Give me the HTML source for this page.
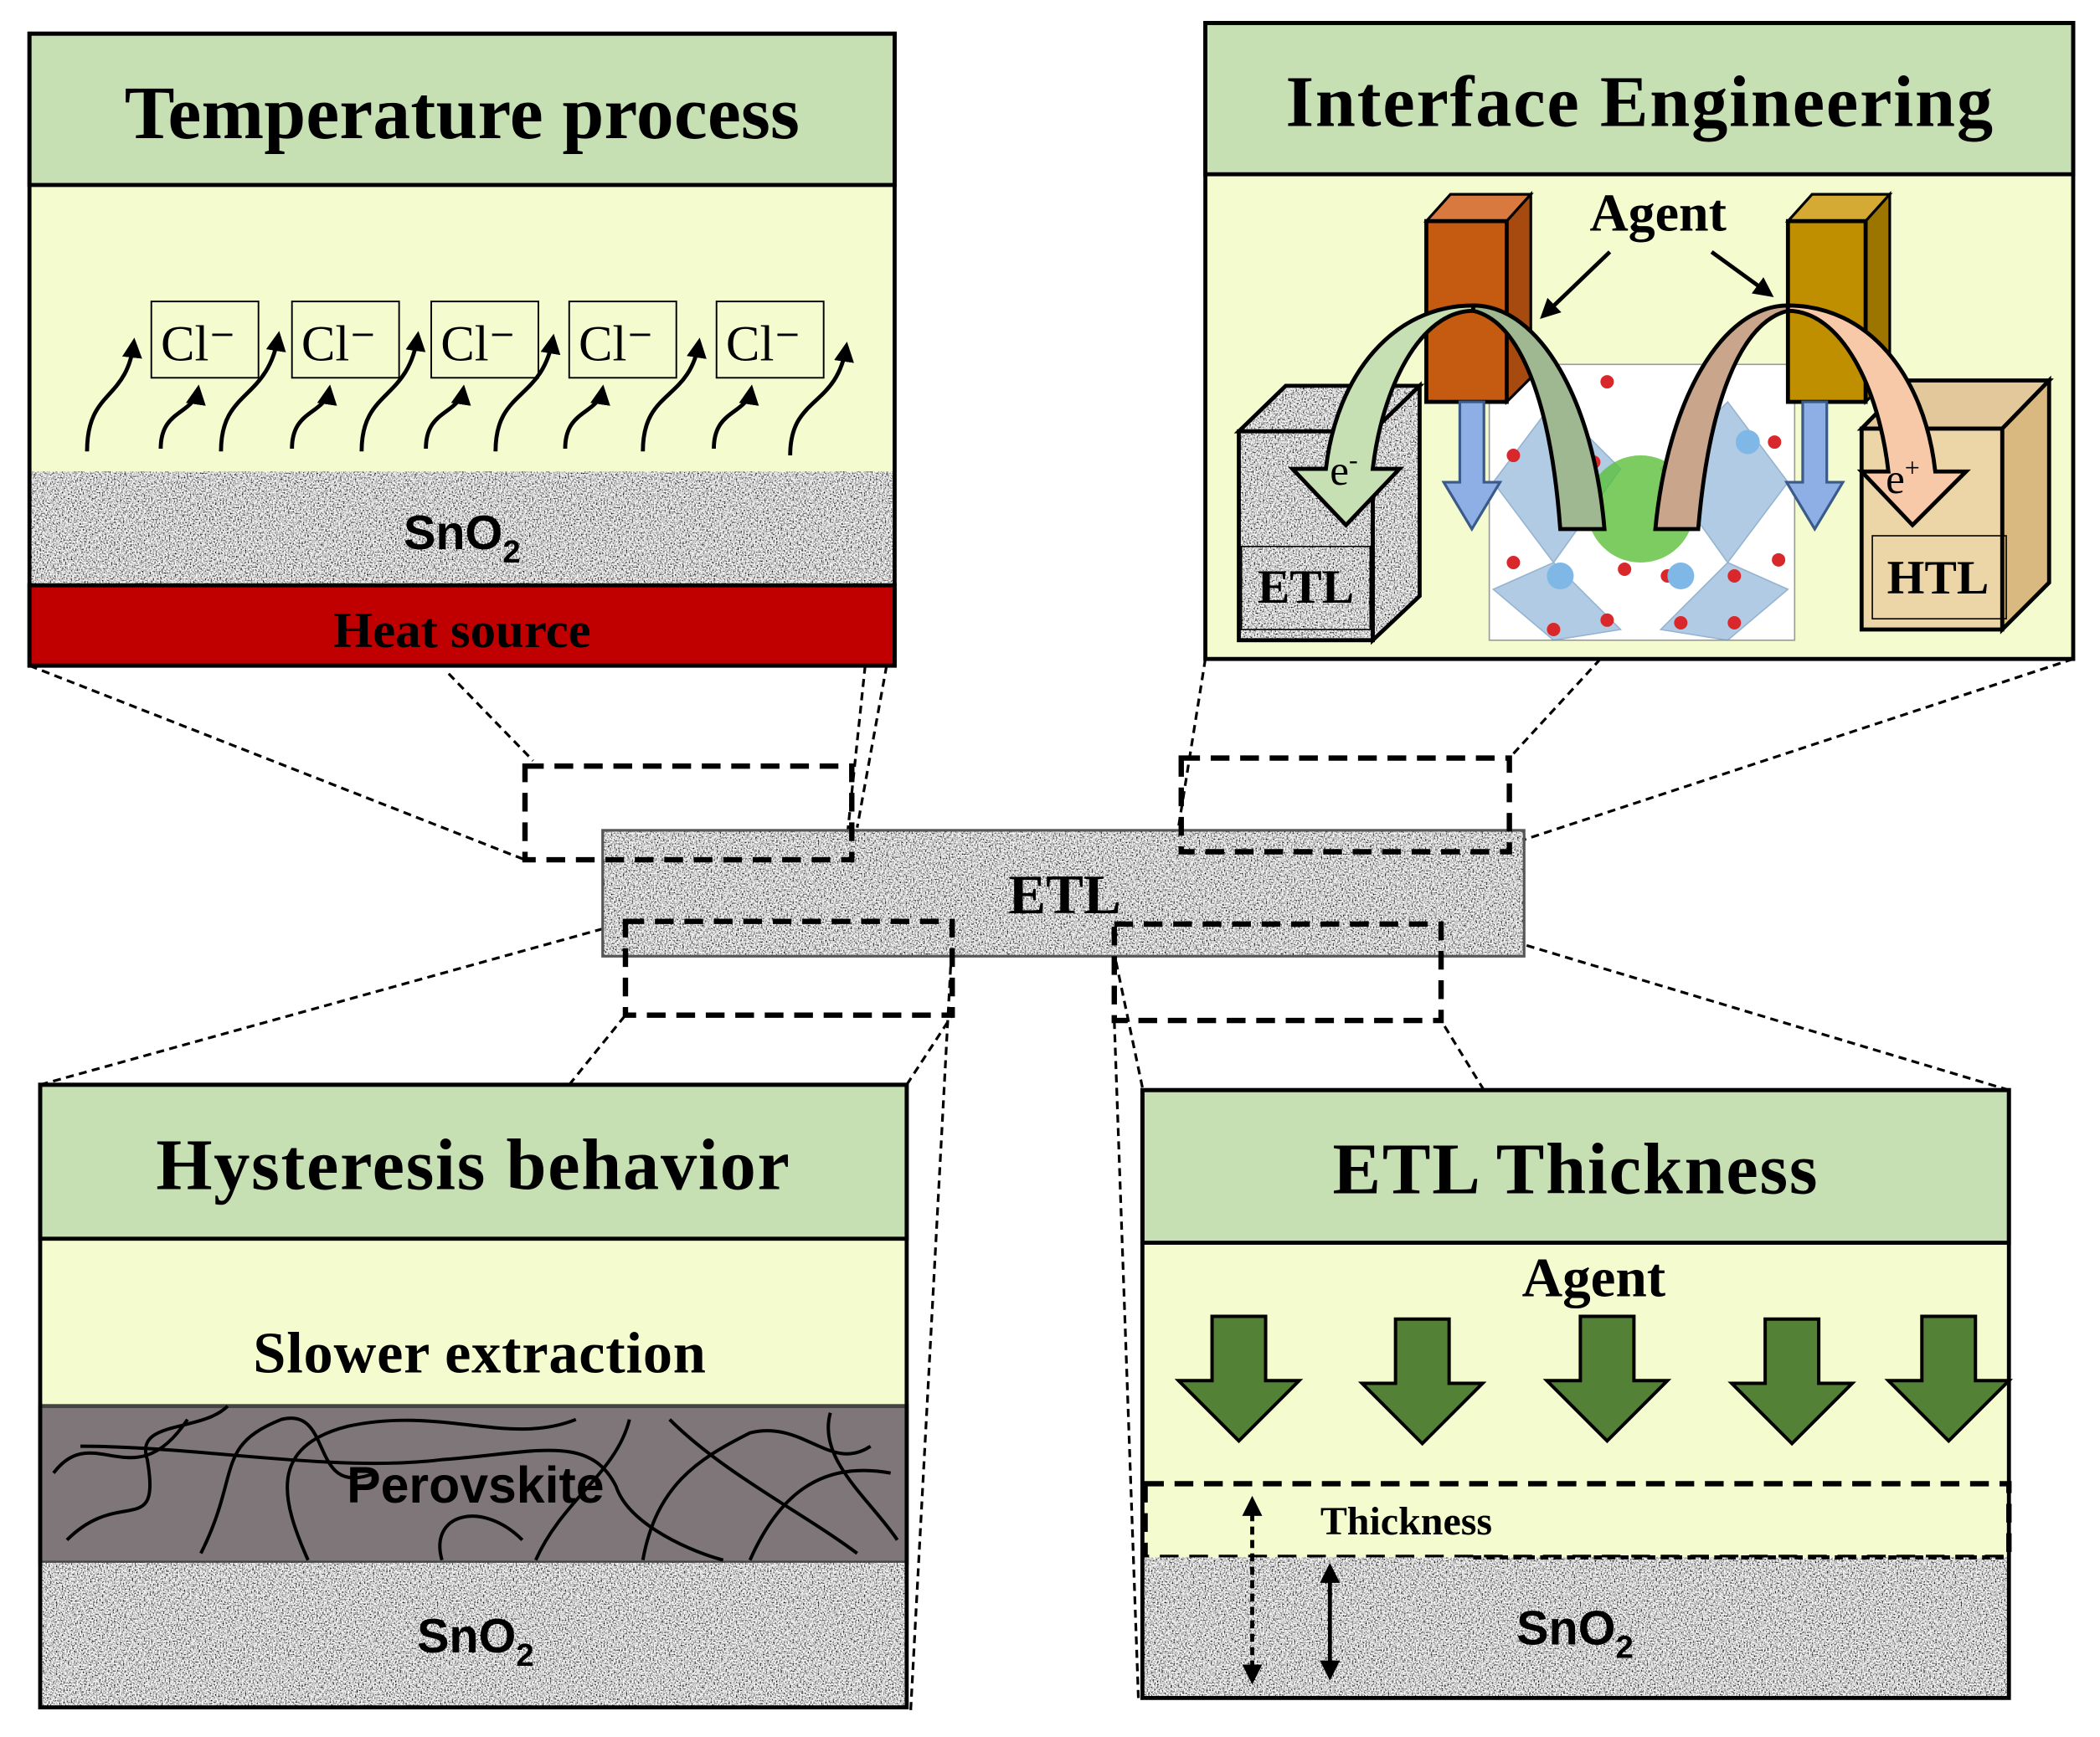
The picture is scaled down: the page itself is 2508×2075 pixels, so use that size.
<!DOCTYPE html>
<html><head><meta charset="utf-8"><style>
html,body{margin:0;padding:0;background:#fff}
svg{display:block}
</style></head><body>
<svg width="2508" height="2075" viewBox="0 0 1568 1297" xmlns="http://www.w3.org/2000/svg">
<defs>
<filter id="nz" x="0" y="0" width="1" height="1">
<feTurbulence type="fractalNoise" baseFrequency="0.9" numOctaves="2" seed="3" result="t"/>
<feColorMatrix in="t" type="matrix" values="2.5 0 0 0 -0.62  2.5 0 0 0 -0.62  2.5 0 0 0 -0.62  0 0 0 0 1" result="g"/>
<feComposite in="g" in2="SourceGraphic" operator="in"/>
</filter>
<marker id="ah" viewBox="0 0 10 10" refX="8" refY="5" markerWidth="5" markerHeight="5" orient="auto-start-reverse"><path d="M0,0 L10,5 L0,10 z" fill="#000"/></marker>
</defs>
<style>
.t{font-family:"Liberation Serif",serif;font-weight:bold;fill:#000}
.s{font-family:"Liberation Sans",sans-serif;font-weight:bold;fill:#000}
.d{stroke:#000;stroke-width:2;stroke-dasharray:6,4;fill:none}
.D{stroke:#000;stroke-width:4;stroke-dasharray:14,8;fill:none}
</style>

<g class="d">
<line x1="22" y1="497" x2="392" y2="642"/>
<line x1="335" y1="503" x2="398" y2="568"/>
<line x1="646" y1="497" x2="632" y2="630"/>
<line x1="662" y1="497" x2="640" y2="618"/>
<line x1="900" y1="492" x2="877" y2="636"/>
<line x1="1195" y1="492" x2="1127" y2="566"/>
<line x1="1548" y1="492" x2="1138" y2="627"/>
<line x1="30" y1="810" x2="452" y2="693"/>
<line x1="425" y1="810" x2="467" y2="758"/>
<line x1="677" y1="810" x2="711" y2="758"/>
<line x1="680" y1="1277" x2="711" y2="700"/>
<line x1="853" y1="812" x2="832" y2="712"/>
<line x1="850" y1="1268" x2="832" y2="762"/>
<line x1="1108" y1="814" x2="1076" y2="762"/>
<line x1="1500" y1="814" x2="1070" y2="685"/>
</g>

<rect x="450" y="620" width="688" height="94" fill="#999" filter="url(#nz)"/>
<rect x="450" y="620" width="688" height="94" fill="none" stroke="#555" stroke-width="2"/>
<text x="795" y="682" class="t" font-size="42" text-anchor="middle">ETL</text>
<rect x="392" y="572" width="244" height="70" class="D"/>
<rect x="882" y="566" width="245" height="70" class="D"/>
<rect x="467" y="688" width="244" height="70" class="D"/>
<rect x="832" y="690" width="244" height="72" class="D"/>

<!-- Temperature process -->
<rect x="22" y="138" width="646" height="214" fill="#f4fbcf"/>
<rect x="22" y="25" width="646" height="113" fill="#c6e0b4" stroke="#000" stroke-width="3"/>
<text x="345" y="103" class="t" font-size="56" text-anchor="middle" textLength="504">Temperature process</text>
<rect x="22" y="352" width="646" height="85" fill="#999" filter="url(#nz)"/>
<text x="345" y="410" class="s" font-size="36" text-anchor="middle">SnO<tspan font-size="24" dy="10">2</tspan></text>
<rect x="22" y="437" width="646" height="60" fill="#c00000" stroke="#000" stroke-width="3"/>
<text x="345" y="483" class="t" font-size="38" text-anchor="middle">Heat source</text>
<rect x="22" y="25" width="646" height="472" fill="none" stroke="#000" stroke-width="3"/>
<g font-family="Liberation Serif,serif" font-size="38" fill="#000" stroke="#000" stroke-width="1.2">
<rect x="113" y="225" width="80" height="57" fill="none"/><text x="120" y="269" stroke="none">Cl⁻</text>
<rect x="218" y="225" width="80" height="57" fill="none"/><text x="225" y="269" stroke="none">Cl⁻</text>
<rect x="322" y="225" width="80" height="57" fill="none"/><text x="329" y="269" stroke="none">Cl⁻</text>
<rect x="425" y="225" width="80" height="57" fill="none"/><text x="432" y="269" stroke="none">Cl⁻</text>
<rect x="535" y="225" width="80" height="57" fill="none"/><text x="542" y="269" stroke="none">Cl⁻</text>
</g>
<g stroke="#000" stroke-width="3" fill="none" marker-end="url(#ah)">
<path d="M65,337 C65,290 95,300 100,255"/>
<path d="M120,335 C120,305 145,310 148,290"/>
<path d="M165,337 C165,290 200,300 208,250"/>
<path d="M218,335 C218,305 243,310 246,290"/>
<path d="M270,337 C270,290 305,300 312,250"/>
<path d="M318,335 C318,305 343,310 346,290"/>
<path d="M370,337 C370,290 405,300 413,252"/>
<path d="M422,335 C422,305 447,310 450,290"/>
<path d="M480,337 C480,290 515,300 522,255"/>
<path d="M533,335 C533,305 558,310 561,290"/>
<path d="M590,340 C590,295 625,305 632,258"/>
</g>

<!-- Interface Engineering -->
<rect x="900" y="130" width="648" height="362" fill="#f4fbcf"/>
<rect x="900" y="17" width="648" height="113" fill="#c6e0b4" stroke="#000" stroke-width="3"/>
<text x="1224" y="94" class="t" font-size="54" text-anchor="middle" textLength="528">Interface Engineering</text>
<rect x="1112" y="272" width="228" height="206" fill="#fff" stroke="#999"/>
<g fill="#8fb6d8" opacity="0.7" stroke="#6a94bb">
<polygon points="1160,300 1210,350 1160,420 1115,360"/>
<polygon points="1290,300 1335,360 1290,420 1240,350"/>
<polygon points="1160,420 1210,470 1160,478 1115,440"/>
<polygon points="1290,420 1335,440 1290,478 1240,470"/>
</g>
<circle cx="1225" cy="380" r="40" fill="#5bbf3a" opacity="0.8"/>
<g fill="#d9282b">
<circle cx="1200" cy="285" r="5"/><circle cx="1130" cy="340" r="5"/><circle cx="1190" cy="345" r="5"/><circle cx="1250" cy="345" r="5"/><circle cx="1325" cy="330" r="5"/>
<circle cx="1130" cy="420" r="5"/><circle cx="1168" cy="430" r="5"/><circle cx="1213" cy="425" r="5"/><circle cx="1245" cy="430" r="5"/><circle cx="1295" cy="430" r="5"/><circle cx="1328" cy="418" r="5"/>
<circle cx="1200" cy="463" r="5"/><circle cx="1255" cy="465" r="5"/><circle cx="1160" cy="470" r="5"/><circle cx="1295" cy="465" r="5"/>
</g>
<g fill="#7fb8e6"><circle cx="1165" cy="430" r="10"/><circle cx="1255" cy="430" r="10"/><circle cx="1305" cy="330" r="9"/><circle cx="1170" cy="330" r="9"/></g>
<polygon points="925,322 960,288 1060,288 1025,322" fill="#999" filter="url(#nz)"/>
<polygon points="925,322 960,288 1060,288 1025,322" fill="none" stroke="#000" stroke-width="3"/>
<polygon points="1025,322 1060,288 1060,445 1025,478" fill="#999" filter="url(#nz)"/>
<rect x="925" y="322" width="100" height="156" fill="#999" filter="url(#nz)"/>
<rect x="925" y="322" width="100" height="156" fill="none" stroke="#000" stroke-width="3"/>
<polygon points="1025,322 1060,288 1060,445 1025,478" fill="none" stroke="#000" stroke-width="3"/>
<rect x="927" y="408" width="96" height="62" fill="none" stroke="#000" stroke-width="1"/>
<text x="975" y="450" class="t" font-size="36" text-anchor="middle">ETL</text>
<polygon points="1390,320 1425,284 1530,284 1495,320" fill="#e2c89a" stroke="#000" stroke-width="3"/>
<polygon points="1495,320 1530,284 1530,435 1495,470" fill="#d9b97f" stroke="#000" stroke-width="3"/>
<rect x="1390" y="320" width="105" height="150" fill="#ecd6a8" stroke="#000" stroke-width="3"/>
<rect x="1398" y="400" width="100" height="62" fill="none" stroke="#000" stroke-width="1"/>
<text x="1447" y="443" class="t" font-size="36" text-anchor="middle">HTL</text>
<polygon points="1065,165 1083,145 1143,145 1125,165" fill="#d87a40" stroke="#000" stroke-width="2"/>
<polygon points="1125,165 1143,145 1143,282 1125,300" fill="#a64a10" stroke="#000" stroke-width="2"/>
<rect x="1065" y="165" width="60" height="135" fill="#c55a11" stroke="#000" stroke-width="3"/>
<polygon points="1335,165 1353,145 1411,145 1393,165" fill="#d4aa35" stroke="#000" stroke-width="2"/>
<polygon points="1393,165 1411,145 1411,282 1393,300" fill="#9c7400" stroke="#000" stroke-width="2"/>
<rect x="1335" y="165" width="58" height="135" fill="#bf8f00" stroke="#000" stroke-width="3"/>
<path d="M1090,300 h18 v60 h12 l-21,35 l-21,-35 h12 z" fill="#8eaee6" stroke="#3a5a8a" stroke-width="2"/>
<path d="M1346,300 h18 v60 h12 l-21,35 l-21,-35 h12 z" fill="#8eaee6" stroke="#3a5a8a" stroke-width="2"/>
<path d="M1100,232 C1060,232 1032,290 1025,350 L1045,350 L1005,392 L965,350 L990,350 C998,280 1040,228 1100,228 Z" fill="#c6e0b4" stroke="#000" stroke-width="3"/>
<path d="M1100,228 C1150,228 1190,300 1198,395 L1165,395 C1158,300 1135,240 1100,232 Z" fill="#a0b892" stroke="#000" stroke-width="3"/>
<path d="M1335,228 C1285,228 1245,300 1236,395 L1268,395 C1276,300 1300,240 1335,232 Z" fill="#c9a58b" stroke="#000" stroke-width="3"/>
<path d="M1335,232 C1375,232 1403,290 1410,352 L1390,352 L1428,392 L1468,352 L1445,352 C1437,280 1395,228 1335,228 Z" fill="#f7c9a8" stroke="#000" stroke-width="3"/>
<text x="993" y="362" font-family="Liberation Serif,serif" font-size="32">e<tspan font-size="20" dy="-12">-</tspan></text>
<text x="1408" y="368" font-family="Liberation Serif,serif" font-size="32">e<tspan font-size="20" dy="-12">+</tspan></text>
<text x="1238" y="172" class="t" font-size="40" text-anchor="middle">Agent</text>
<line x1="1202" y1="188" x2="1152" y2="236" stroke="#000" stroke-width="3" marker-end="url(#ah)"/>
<line x1="1278" y1="188" x2="1322" y2="220" stroke="#000" stroke-width="3" marker-end="url(#ah)"/>
<rect x="900" y="17" width="648" height="475" fill="none" stroke="#000" stroke-width="3"/>

<!-- Hysteresis -->
<rect x="30" y="925" width="647" height="125" fill="#f4fbcf"/>
<rect x="30" y="810" width="647" height="115" fill="#c6e0b4" stroke="#000" stroke-width="3"/>
<text x="353" y="888" class="t" font-size="54" text-anchor="middle" textLength="473">Hysteresis behavior</text>
<text x="358" y="1025" class="t" font-size="44" text-anchor="middle" textLength="338">Slower extraction</text>
<rect x="30" y="1050" width="647" height="117" fill="#7f7679" stroke="#444" stroke-width="3"/>
<g stroke="#000" stroke-width="2.5" fill="none">
<path d="M40,1100 C70,1060 100,1120 140,1060"/>
<path d="M50,1150 C90,1110 120,1150 110,1090 C100,1060 150,1070 170,1050"/>
<path d="M150,1160 C180,1100 160,1080 210,1060 C250,1050 230,1120 280,1100"/>
<path d="M230,1165 C210,1120 200,1080 260,1065 C330,1050 380,1080 430,1060"/>
<path d="M60,1080 C150,1080 250,1100 330,1090 C400,1085 440,1070 460,1110 C470,1140 520,1160 540,1165"/>
<path d="M400,1165 C420,1120 460,1100 470,1060"/>
<path d="M480,1165 C490,1110 520,1090 560,1070 C600,1060 620,1100 650,1080"/>
<path d="M560,1165 C580,1120 610,1090 665,1100"/>
<path d="M500,1060 C540,1100 600,1130 640,1160"/>
<path d="M620,1055 C610,1090 650,1120 670,1150"/>
<path d="M330,1165 C320,1130 360,1120 390,1150"/>
</g>
<text x="355" y="1122" class="s" font-size="38" text-anchor="middle">Perovskite</text>
<rect x="30" y="1167" width="647" height="108" fill="#999" filter="url(#nz)"/>
<text x="355" y="1234" class="s" font-size="36" text-anchor="middle">SnO<tspan font-size="24" dy="10">2</tspan></text>
<rect x="30" y="810" width="647" height="465" fill="none" stroke="#000" stroke-width="3"/>

<!-- ETL Thickness -->
<rect x="853" y="928" width="647" height="235" fill="#f4fbcf"/>
<rect x="853" y="814" width="647" height="114" fill="#c6e0b4" stroke="#000" stroke-width="3"/>
<text x="1176" y="891" class="t" font-size="54" text-anchor="middle" textLength="362">ETL Thickness</text>
<text x="1190" y="968" class="t" font-size="42" text-anchor="middle">Agent</text>
<g fill="#538135" stroke="#000" stroke-width="2.5">
<path d="M905,983 h40 v48 h25 l-45,45 l-45,-45 h25 z"/>
<path d="M1042,985 h40 v48 h25 l-45,45 l-45,-45 h25 z"/>
<path d="M1180,983 h40 v48 h25 l-45,45 l-45,-45 h25 z"/>
<path d="M1318,985 h40 v48 h25 l-45,45 l-45,-45 h25 z"/>
<path d="M1435,983 h40 v48 h25 l-45,45 l-45,-45 h25 z"/>
</g>
<rect x="855" y="1108" width="645" height="55" class="D" stroke-width="3"/>
<text x="1050" y="1146" class="t" font-size="30" text-anchor="middle">Thickness</text>
<rect x="853" y="1163" width="647" height="105" fill="#999" filter="url(#nz)"/>
<text x="1176" y="1228" class="s" font-size="36" text-anchor="middle">SnO<tspan font-size="24" dy="10">2</tspan></text>
<line x1="1100" y1="1163" x2="1500" y2="1163" stroke="#000" stroke-width="3" stroke-dasharray="6,4"/>
<line x1="935" y1="1120" x2="935" y2="1255" stroke="#000" stroke-width="3" stroke-dasharray="6,4" marker-start="url(#ah)" marker-end="url(#ah)"/>
<line x1="993" y1="1170" x2="993" y2="1252" stroke="#000" stroke-width="3" marker-start="url(#ah)" marker-end="url(#ah)"/>
<rect x="853" y="814" width="647" height="454" fill="none" stroke="#000" stroke-width="3"/>
</svg>
</body></html>
